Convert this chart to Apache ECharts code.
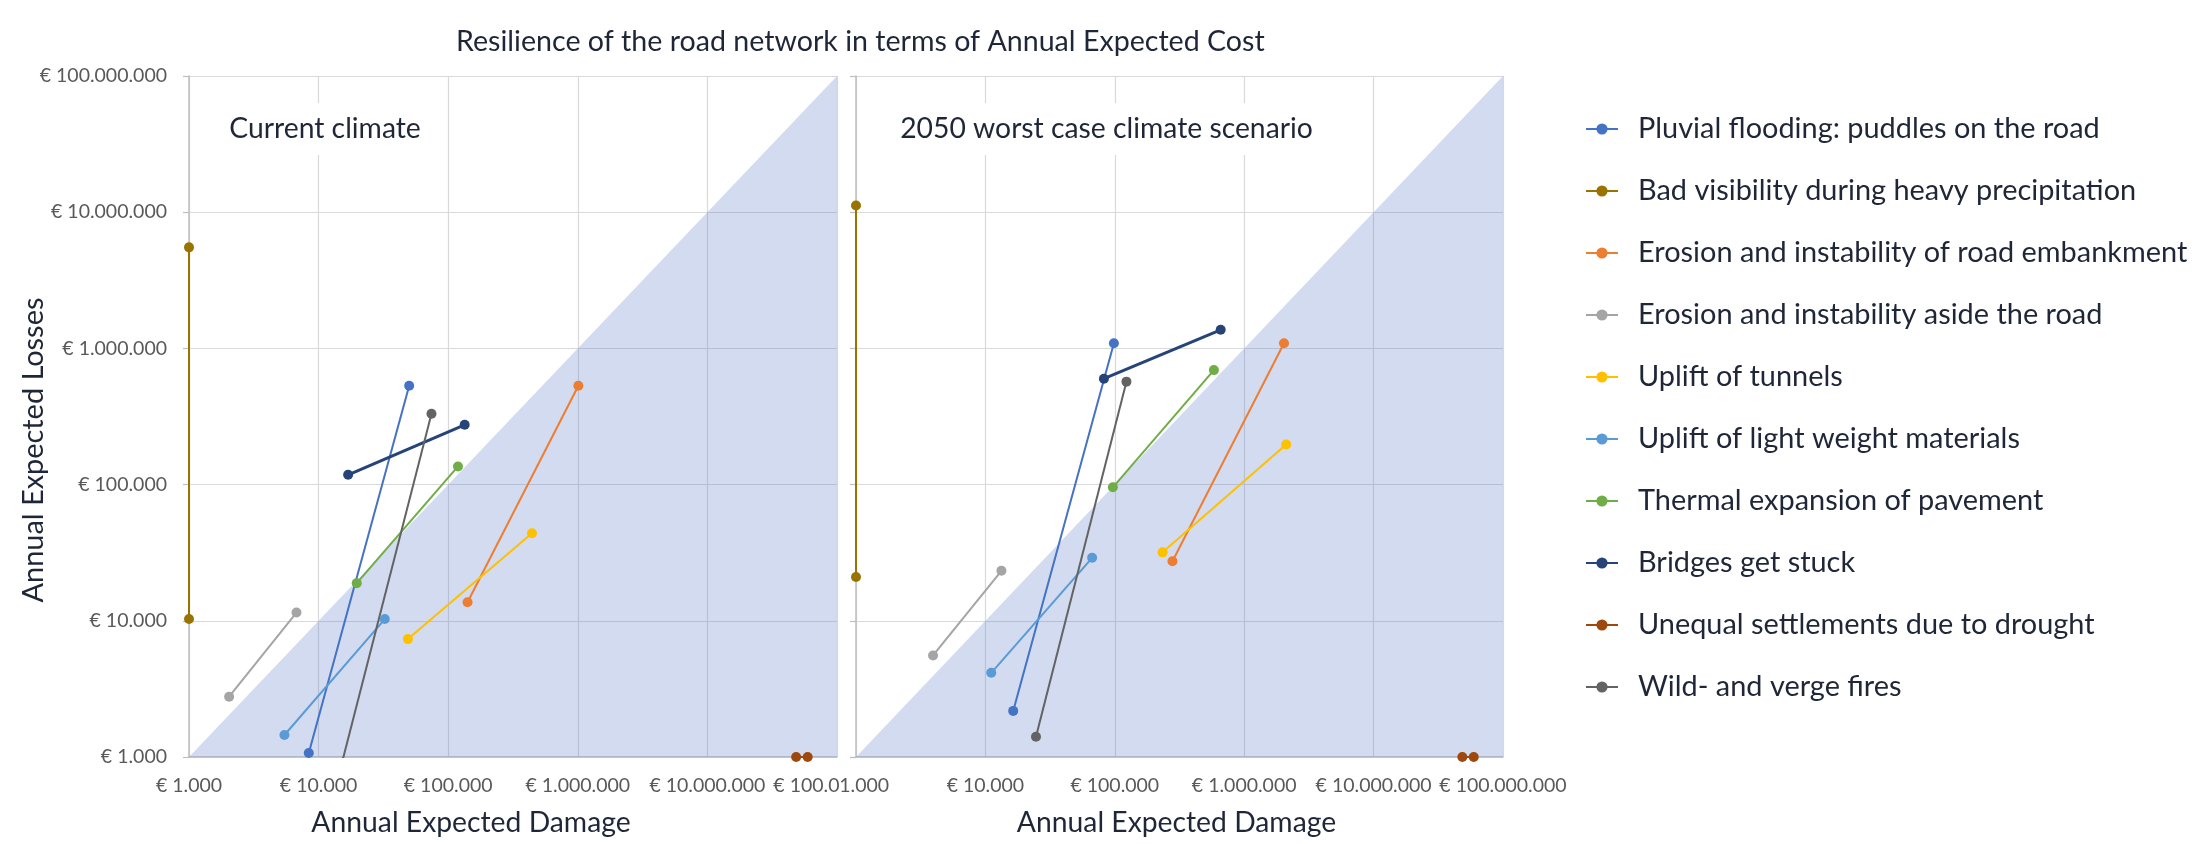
<!DOCTYPE html>
<html>
<head>
<meta charset="utf-8">
<script src="https://cdn.jsdelivr.net/npm/echarts@6/dist/echarts.min.js"></script>
<style>
html, body { margin: 0; padding: 0; background: #ffffff; }
#main { position: absolute; left: 0; top: 0; width: 2194px; height: 844px; }
#right { position: absolute; left: 839px; top: 62px; width: 740px; height: 782px; background: #ffffff; }
</style>
</head>
<body>
<div id="main"></div>
<div id="right"></div>
<script>
// ---------------- data ----------------
const chartTitle = 'Resilience of the road network in terms of Annual Expected Cost';
const panelTitles = ['Current climate', '2050 worst case climate scenario'];
const xAxisTitle = 'Annual Expected Damage';
const yAxisTitle = 'Annual Expected Losses';

const seriesNames = [
  'Pluvial flooding: puddles on the road',
  'Bad visibility during heavy precipitation',
  'Erosion and instability of road embankment',
  'Erosion and instability aside the road',
  'Uplift of tunnels',
  'Uplift of light weight materials',
  'Thermal expansion of pavement',
  'Bridges get stuck',
  'Unequal settlements due to drought',
  'Wild- and verge fires'
];

// Current climate: two points per hazard (damage €, losses €)
const currentStartDamage = [8400, 1000, 141000, 2040, 48900, 5450, 19700, 16900, 48400000, 12900];
const currentStartLosses = [1070, 10300, 13700, 2770, 7340, 1450, 18900, 118000, 1000, 500];
const currentEndDamage   = [50000, 1000, 1010000, 6750, 443000, 32400, 119000, 134000, 59400000, 74300];
const currentEndLosses   = [532000, 5520000, 532000, 11500, 43900, 10300, 136000, 275000, 1000, 331000];

// 2050 worst case climate scenario
const futureStartDamage = [16400, 1000, 279000, 3940, 234000, 11100, 96600, 82400, 48500000, 24600];
const futureStartLosses = [2180, 21000, 27400, 5570, 31800, 4150, 95500, 599000, 1000, 1410];
const futureEndDamage   = [98400, 1000, 2030000, 13300, 2110000, 66800, 583000, 658000, 59400000, 123000];
const futureEndLosses   = [1090000, 11200000, 1090000, 23300, 197000, 29000, 693000, 1370000, 1000, 570000];

// line of equal losses and damage (bounds of the shaded zone)
const equalityLine = [[1000, 1000], [100000000, 100000000]];

const axisTickLabels = ['€ 1.000', '€ 10.000', '€ 100.000', '€ 1.000.000', '€ 10.000.000', '€ 100.000.000'];

// ---------------- style ----------------
const seriesColors = ['#4472C4', '#997300', '#ED7D31', '#A5A5A5', '#FFC000', '#5B9BD5', '#70AD47', '#264478', '#9E480E', '#636363'];
const FONT = 'Lato';
const TEXT = '#1F2637';
const TICK = '#595959';

const mctx = document.createElement('canvas').getContext('2d');
function fitSize(text, width) {
  mctx.font = '100px ' + FONT;
  return Math.round(1000 * width / mctx.measureText(text).width) / 10;
}
const titleSize = fitSize(chartTitle, 808);
const panelSize = fitSize(panelTitles[1], 413);
const legendSize = fitSize(seriesNames[2], 550);
const tickSize = fitSize(axisTickLabels[5], 127);
const xNameSize = fitSize(xAxisTitle, 319);
const yNameSize = fitSize(yAxisTitle, 305);

function tickFormatter(v) {
  const i = Math.round(Math.log10(v)) - 3;
  return axisTickLabels[i] || '';
}

function makeXAxis(namePad) {
  return {
    type: 'log', logBase: 10, min: 1000, max: 100000000, splitNumber: 5,
    name: xAxisTitle, nameLocation: 'middle', nameGap: 52,
    nameTextStyle: { fontFamily: FONT, fontSize: xNameSize, color: TEXT, lineHeight: 28, padding: namePad },
    axisLine: { show: true, onZero: false, lineStyle: { color: '#BFBFBF', width: 1.5 } },
    axisTick: { show: false },
    axisLabel: { show: true, formatter: tickFormatter, margin: 18, fontFamily: FONT, fontSize: tickSize, color: TICK, lineHeight: 22 },
    splitLine: { show: true, lineStyle: { color: '#D9D9D9', width: 1.2 } },
    minorTick: { show: false }, minorSplitLine: { show: false }
  };
}
function makeYAxis(showLabels) {
  return {
    type: 'log', logBase: 10, min: 1000, max: 100000000, splitNumber: 5,
    axisLine: { show: true, onZero: false, lineStyle: { color: '#BFBFBF', width: 1.5 } },
    axisTick: { show: true, length: 6, lineStyle: { color: '#BFBFBF', width: 1.2 } },
    axisLabel: { show: showLabels, formatter: tickFormatter, margin: 22, fontFamily: FONT, fontSize: tickSize, color: TICK },
    splitLine: { show: true, lineStyle: { color: '#D9D9D9', width: 1.2 } },
    minorTick: { show: false }, minorSplitLine: { show: false }
  };
}

function makeSeries(sd, sl, ed, el) {
  const list = [{
    type: 'line', name: 'equal', data: equalityLine, symbol: 'none', silent: true,
    lineStyle: { width: 0 }, areaStyle: { color: 'rgba(95,125,200,0.28)', opacity: 1, origin: 'start' }, z: 1
  }];
  seriesNames.forEach(function (n, i) {
    list.push({
      type: 'line', name: n, data: [[sd[i], sl[i]], [ed[i], el[i]]],
      symbol: 'circle', symbolSize: 10, clip: true,
      lineStyle: { width: i === 7 ? 3 : 2, color: seriesColors[i] },
      itemStyle: { color: seriesColors[i] }, z: 2
    });
  });
  return list;
}

function panelLabel(text, x, y) {
  return {
    type: 'text', x: x, y: y, z: 100,
    style: {
      text: text, fontFamily: FONT, fontSize: panelSize, fill: TEXT,
      align: 'center', verticalAlign: 'middle', lineHeight: 28,
      backgroundColor: '#ffffff', padding: [12, 12]
    }
  };
}

// ---------------- left chart (with title and legend) ----------------
const main = echarts.init(document.getElementById('main'), null, { renderer: 'canvas' });
main.setOption({
  animation: false,
  backgroundColor: '#ffffff',
  color: seriesColors,
  title: {
    text: chartTitle, left: 456, top: 27, padding: 0,
    textStyle: { fontFamily: FONT, fontSize: titleSize, fontWeight: 'normal', color: TEXT, lineHeight: 30 }
  },
  legend: {
    data: seriesNames, orient: 'vertical', left: 1585, top: 114,
    itemWidth: 32, itemHeight: 14, itemGap: 32, padding: 0,
    textStyle: { fontFamily: FONT, fontSize: legendSize, color: TEXT, lineHeight: 30, padding: [0, 0, 0, 15] }
  },
  grid: { left: 189, top: 76, width: 648, height: 681, containLabel: false, outerBoundsMode: 'none' },
  xAxis: makeXAxis([0, 84, 0, 0]),
  yAxis: makeYAxis(true),
  series: makeSeries(currentStartDamage, currentStartLosses, currentEndDamage, currentEndLosses),
  graphic: [
    panelLabel(panelTitles[0], 325, 129),
    {
      type: 'text', x: 34, y: 450, rotation: Math.PI / 2, z: 100,
      style: { text: yAxisTitle, fontFamily: FONT, fontSize: yNameSize, fill: TEXT, align: 'center', verticalAlign: 'middle' }
    }
  ]
});

// ---------------- right chart ----------------
const right = echarts.init(document.getElementById('right'), null, { renderer: 'canvas' });
right.setOption({
  animation: false,
  backgroundColor: '#ffffff',
  color: seriesColors,
  grid: { left: 17, top: 14, width: 647, height: 681, containLabel: false, outerBoundsMode: 'none' },
  xAxis: makeXAxis([0, 6, 0, 0]),
  yAxis: makeYAxis(false),
  series: makeSeries(futureStartDamage, futureStartLosses, futureEndDamage, futureEndLosses),
  graphic: [panelLabel(panelTitles[1], 267.5, 67)]
});
</script>
</body>
</html>
